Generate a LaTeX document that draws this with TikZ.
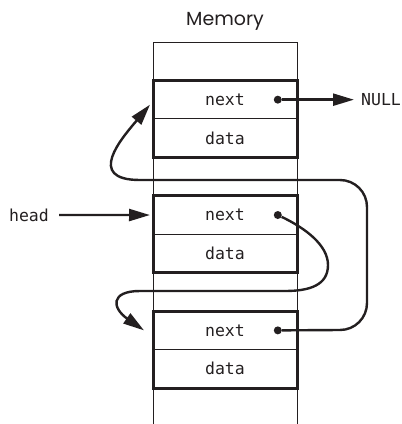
\documentclass[tikz,border=0pt]{standalone}
\usepackage{fontspec}
\setmainfont{Poppins}
\newfontfamily\codefont{DejaVu Sans Mono}
\usepackage{tikz}
\usetikzlibrary{
    arrows.meta,
    positioning,
    calc
}
\tikzset{
  cell/.style  = {draw, line width=0.9pt, minimum width=144pt,
                  minimum height=38.45pt, outer sep=0pt, inner sep=0pt,
                  font=\codefont\fontsize{16.5}{16.5}\selectfont},
  code/.style  = {font=\codefont\fontsize{16.5}{16.5}\selectfont, inner sep=0pt},
  dot/.style   = {circle, fill, inner sep=0pt, minimum size=8pt},
  blk/.style   = {line width=3pt},
  ptr/.style   = {-{Triangle[length=21pt,width=12pt]}, line width=2.4pt}
}
\definecolor{InkBlack}{RGB}{35,31,32}

\begin{document}
\begin{tikzpicture}[x=1pt, y=-1pt, color=InkBlack]
\useasboundingbox (0,0) rectangle (402,424);
\node[font=\fontsize{19}{19}\selectfont] (mem) at (225,21) {Memory};
% memory column
\node[cell, anchor=north] (s0) at (225,42) {};
\node[cell, below=0pt of s0] (n1) {next};
\node[cell, below=0pt of n1] (d1) {data};
\node[cell, below=0pt of d1] (s1) {};
\node[cell, below=0pt of s1] (n2) {next};
\node[cell, below=0pt of n2] (d2) {data};
\node[cell, below=0pt of d2] (s2) {};
\node[cell, below=0pt of s2] (n3) {next};
\node[cell, below=0pt of n3] (d3) {data};
\draw[line width=0.9pt] (d3.south west) -- (d3.south west |- 0,424);
\draw[line width=0.9pt] (d3.south east) -- (d3.south east |- 0,424);
\foreach \i in {1,2,3} {
  \draw[blk] (n\i.north west) rectangle (d\i.south east);
  \node[dot, left=15pt of n\i.east] (p\i) {};
}
% pointers
\node[code, right=79pt of p1] (null) {NULL};
\node[code] (head) at (29,215) {head};
\coordinate (t1) at ($(n1.west)+(-3,5)$);
\coordinate (t3) at ($(n3.west)+(-9,0)$);
\draw[ptr, shorten >=7pt] (p1) -- (null);
\draw[ptr, shorten <=10pt, shorten >=3pt] (head) -- (n2.west);
\draw[ptr] (p3) -- (340,330) to[out=0,in=-90] (367,303) -- (367,207)
  to[out=90,in=0] (340,180) -- (140,180) .. controls (85,180) and (122,138) .. (t1);
\draw[ptr] (p2) .. controls (305,228) and (328,245) .. (328,265)
  .. controls (328,285) and (310,291) .. (285,291) -- (140,291)
  .. controls (110,291) and (112,308) .. (t3);
\end{tikzpicture}
\end{document}
